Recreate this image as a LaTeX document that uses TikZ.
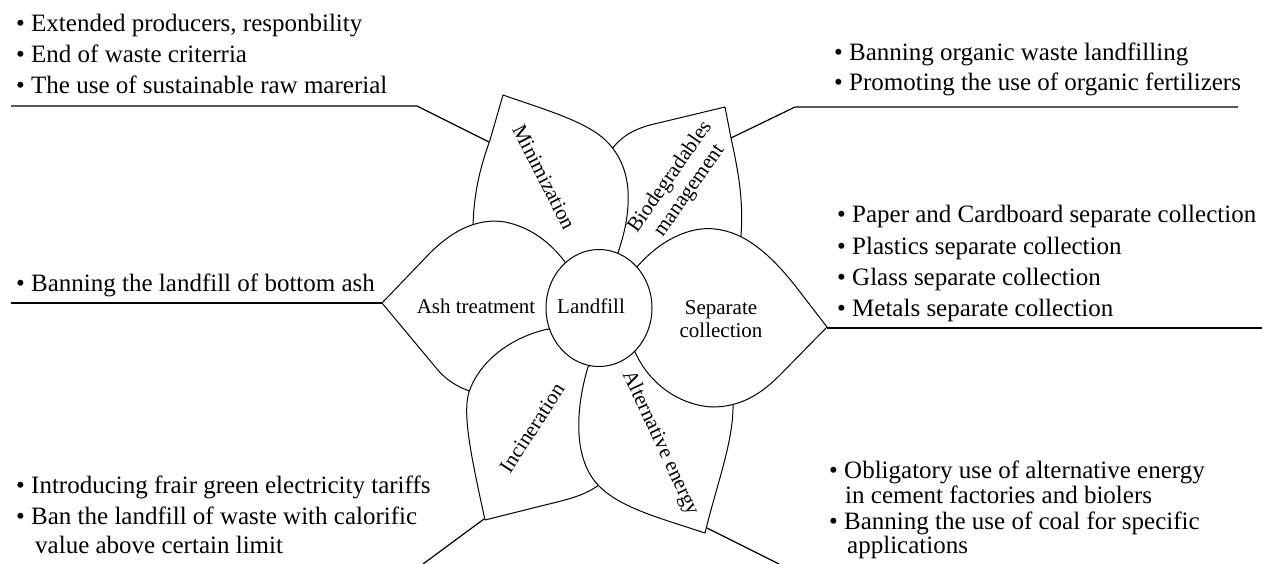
\documentclass[tikz,border=0pt]{standalone}
\usepackage{fontspec}
\setmainfont{Liberation Serif}
\usetikzlibrary{shapes.geometric}
\begin{document}
\begin{tikzpicture}[x=1pt,y=-1pt,
  petal/.style={draw=black, fill=white, line width=1pt, line join=round},
  conn/.style={draw=black, line width=1.2pt},
  btext/.style={anchor=base west, inner sep=0pt, font=\fontsize{25}{30}\selectfont},
  lbl/.style={inner sep=0pt, align=center, font=\fontsize{21}{23.5}\selectfont}]
\useasboundingbox (0,0) rectangle (1262,563);

% connector coordinates
\coordinate (minend) at (11,106);
\coordinate (minbend) at (417,106);
\coordinate (minpet) at (489,142);
\coordinate (bioend) at (1238,107);
\coordinate (biobend) at (795,107);
\coordinate (biopet) at (731,138);
\coordinate (ashend) at (11,303);
\coordinate (ashpet) at (382,303);
\coordinate (sepend) at (1262,328);
\coordinate (seppet) at (827,328);
\coordinate (incend) at (423,564);
\coordinate (incpet) at (484,519);
\coordinate (altend) at (779,564);
\coordinate (altpet) at (707,528);

\draw[conn] (minpet) -- (minbend) -- (minend);
\draw[conn] (biopet) -- (biobend) -- (bioend);
\draw[conn] (ashpet) -- (ashend);
\draw[conn] (seppet) -- (sepend);
\draw[conn] (incpet) -- (incend);
\draw[conn] (altpet) -- (altend);

% Biodegradables petal
\path[petal] (600,200) -- (608,155) .. controls (618,138) and (632,130) .. (650,125)
  -- (725,107) -- (731,138) .. controls (738,170) and (745,205) .. (740,245)
  -- (680,280) -- (620,300) -- (610,220) -- cycle;
% Minimization petal
\path[petal] (618,253) .. controls (622,240) and (627,225) .. (628,205)
  .. controls (630,175) and (620,150) .. (598,134)
  .. controls (575,118) and (540,108) .. (503,95)
  -- (490,140) .. controls (480,168) and (473,195) .. (473,232)
  -- (478,265) -- (590,300) -- cycle;
% Ash treatment petal
\path[petal] (565,262) .. controls (550,242) and (530,227) .. (505,222)
  .. controls (480,218) and (455,228) .. (430,253) -- (382,303)
  -- (437,369) .. controls (447,381) and (458,387) .. (472,392)
  -- (500,385) -- (560,320) -- cycle;
% Incineration petal
\path[petal] (548,329) .. controls (512,337) and (480,360) .. (469,392)
  .. controls (462,415) and (472,460) .. (485,520)
  -- (545,505) .. controls (570,499) and (586,495) .. (600,484)
  -- (625,450) -- (600,350) -- cycle;
% Alternative energy petal
\path[petal] (588,367) .. controls (578,400) and (570,455) .. (598,485)
  .. controls (620,508) and (660,518) .. (705,533)
  .. controls (718,480) and (734,440) .. (733,402)
  -- (733,395) -- (700,380) -- (620,340) -- cycle;
% Separate collection petal
\path[petal] (637,267) .. controls (660,240) and (690,226) .. (715,229)
  .. controls (745,232) and (772,255) .. (800,292) -- (827,327)
  -- (780,375) .. controls (760,395) and (740,407) .. (712,407)
  .. controls (680,405) and (650,385) .. (635,352) -- (620,310) -- cycle;

% centre
\node[ellipse, draw=black, fill=white, line width=1pt, minimum width=106pt,
  minimum height=117pt, inner sep=0pt] (landfill) at (599,308) {};

% petal labels
\node[lbl] (landfilltext) at (591,306) {Landfill};
\node[lbl] (ashlbl) at (476,306) {Ash treatment};
\node[lbl] (seplbl) at (721,319) {Separate\\collection};
\node[lbl, rotate=-63] (minlbl) at (544,177) {Minimization};
\node[lbl, rotate=55] (biolbl) at (680,184) {Biodegradables\\management};
\node[lbl, rotate=57] (inclbl) at (532,428) {Incineration};
\node[lbl, rotate=-65] (altlbl) at (660,443) {Alternative energy};

% bullet texts
\node[btext] (tl1) at (16,31.5) {• Extended producers, responbility};
\node[btext] (tl2) at (16,62.3) {• End of waste criterria};
\node[btext] (tl3) at (16,93) {• The use of sustainable raw marerial};

\node[btext] (ash1) at (16,291.5) {• Banning the landfill of bottom ash};

\node[btext] (tr1) at (834,60) {• Banning organic waste landfilling};
\node[btext] (tr2) at (834,90.7) {• Promoting the use of organic fertilizers};

\node[btext] (mr1) at (837,222) {• Paper and Cardboard separate collection};
\node[btext] (mr2) at (837,254) {• Plastics separate collection};
\node[btext] (mr3) at (837,285) {• Glass separate collection};
\node[btext] (mr4) at (837,316) {• Metals separate collection};

\node[btext] (bl1) at (16,493) {• Introducing frair green electricity tariffs};
\node[btext] (bl2) at (16,524) {• Ban the landfill of waste with calorific};
\node[btext] (bl3) at (16,553) {\hspace*{19pt}value above certain limit};

\node[btext] (br1) at (829,478) {• Obligatory use of alternative energy};
\node[btext] (br2) at (829,503) {\hspace*{16pt}in cement factories and biolers};
\node[btext] (br3) at (829,529) {• Banning the use of coal for specific};
\node[btext] (br4) at (829,553) {\hspace*{18pt}applications};
\end{tikzpicture}
\end{document}
